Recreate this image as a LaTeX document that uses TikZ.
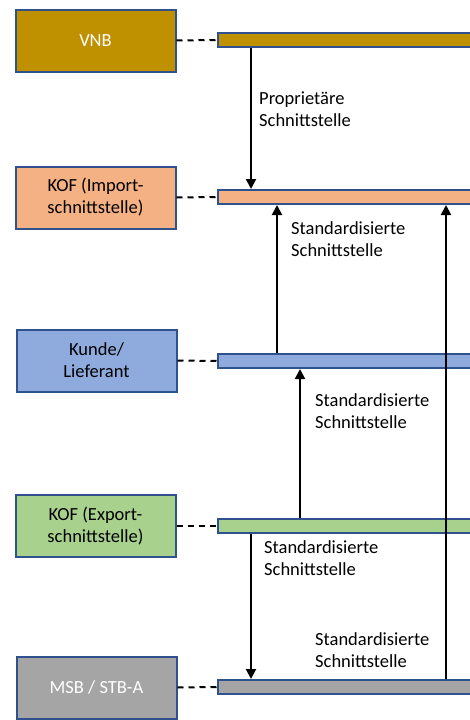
\documentclass[tikz,border=0pt]{standalone}
\usepackage{fontspec}
\setmainfont{Carlito}
\usetikzlibrary{arrows.meta}
\definecolor{vnbcol}{HTML}{BF9000}
\definecolor{impcol}{HTML}{F4B183}
\definecolor{kdecol}{HTML}{8FAADC}
\definecolor{expcol}{HTML}{A9D18E}
\definecolor{msbcol}{HTML}{A5A5A5}
\definecolor{rimcol}{HTML}{2F528F}
\begin{document}
\begin{tikzpicture}[x=1pt,y=-1pt,
  font=\fontsize{18.5}{22}\selectfont,
  rolebox/.style={draw=rimcol,line width=2pt,minimum width=160pt,minimum height=62pt,align=center,inner sep=0pt},
  busbar/.style={draw=rimcol,line width=2pt,minimum width=263pt,minimum height=14pt,inner sep=0pt,anchor=west},
  link/.style={dashed,dash pattern=on 6pt off 5pt,line width=2pt},
  arr/.style={line width=2pt,-{Triangle[length=10pt,width=10pt]}},
  lbl/.style={anchor=west,align=left,inner sep=0pt}]
\useasboundingbox (0,0) rectangle (470,720);

% Rollen
\node[rolebox,fill=vnbcol,text=white] (vnb) at (95.5,40.5) {VNB};
\node[rolebox,fill=impcol] (imp) at (95.5,197.5) {KOF (Import-\\schnittstelle)};
\node[rolebox,fill=kdecol] (kde) at (96.5,360.5) {Kunde/\\Lieferant};
\node[rolebox,fill=expcol] (exp) at (95.5,526) {KOF (Export-\\schnittstelle)};
\node[rolebox,fill=msbcol,text=white] (msb) at (96.5,687.5) {MSB / STB-A};

% Balken
\node[busbar,fill=vnbcol] (vnbbar) at (217,40) {};
\node[busbar,fill=impcol] (impbar) at (217,197) {};
\node[busbar,fill=kdecol] (kdebar) at (217,361) {};
\node[busbar,fill=expcol] (expbar) at (217,526) {};
\node[busbar,fill=msbcol] (msbbar) at (217,687) {};

\draw[link] (vnb.east) -- (vnbbar.west);
\draw[link] (imp.east) -- (impbar.west);
\draw[link] (kde.east) -- (kdebar.west);
\draw[link] (exp.east) -- (expbar.west);
\draw[link] (msb.east) -- (msbbar.west);

% Schnittstellen
\coordinate (xa) at (251,0);
\coordinate (xb) at (277,0);
\coordinate (xc) at (300,0);
\coordinate (xd) at (446,0);
\draw[arr] (vnbbar.south -| xa) -- (impbar.north -| xa);
\draw[arr] (kdebar.north -| xb) -- (impbar.south -| xb);
\draw[arr] (expbar.north -| xc) -- (kdebar.south -| xc);
\draw[arr] (expbar.south -| xa) -- (msbbar.north -| xa);
\draw[arr] (msbbar.north -| xd) -- (impbar.south -| xd);

\node[lbl] (l1) at (259,109) {Proprietäre\\Schnittstelle};
\node[lbl] (l2) at (291,239) {Standardisierte\\Schnittstelle};
\node[lbl] (l3) at (315,411.5) {Standardisierte\\Schnittstelle};
\node[lbl] (l4) at (264,558.5) {Standardisierte\\Schnittstelle};
\node[lbl] (l5) at (315,650) {Standardisierte\\Schnittstelle};
\end{tikzpicture}
\end{document}
